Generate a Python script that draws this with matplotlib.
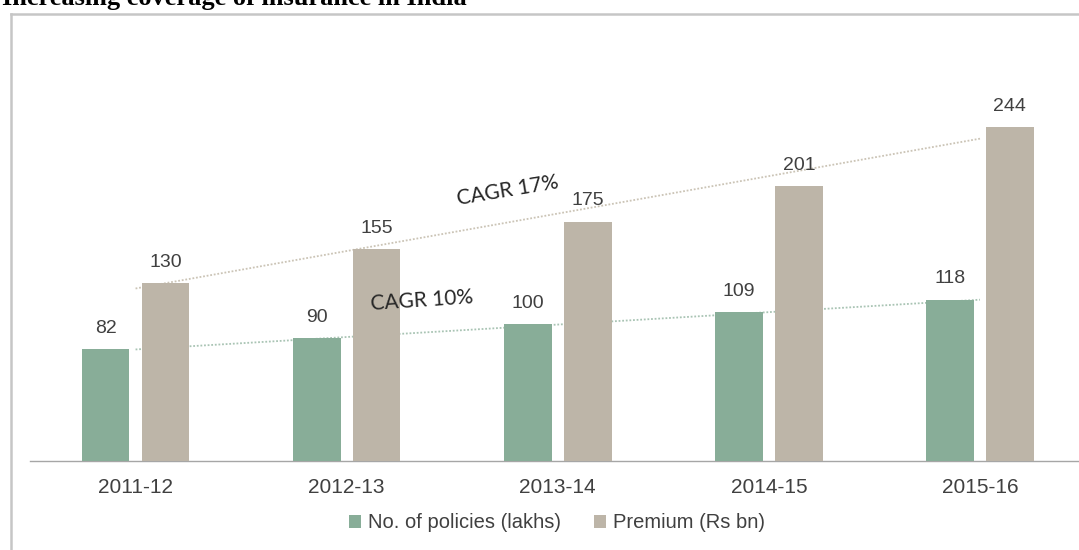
import numpy as np
import matplotlib
matplotlib.use("Agg")
import matplotlib.pyplot as plt
from matplotlib.patches import Patch
from matplotlib.lines import Line2D

# ---- data ----
categories = ["2011-12", "2012-13", "2013-14", "2014-15", "2015-16"]
policies = [82, 90, 100, 109, 118]
premium = [130, 155, 175, 201, 244]
series_names = ["No. of policies (lakhs)", "Premium (Rs bn)"]
cagr_labels = ["CAGR 10%", "CAGR 17%"]
title = "Increasing coverage of insurance in India"

# ---- style ----
GREEN = "#88AD98"
TAN = "#BDB5A8"
TXT = "#404040"

W, H = 1079, 550
fig = plt.figure(figsize=(W / 100, H / 100), dpi=100)

# axes placement (pixels)
ax_left, ax_right, ax_bottom, ax_top = 30, 1085.5, 461, 14
ax = fig.add_axes([ax_left / W, (H - ax_bottom) / H,
                   (ax_right - ax_left) / W, (ax_bottom - ax_top) / H])

x = np.arange(len(categories))
bw = 0.226
off = 0.142
ax.bar(x - off, policies, width=bw, color=GREEN, zorder=3)
ax.bar(x + off, premium, width=bw, color=TAN, zorder=3)

for xi, v in zip(x, policies):
    ax.text(xi - off, v + 9, str(v), ha="center", va="bottom",
            fontsize=14, color=TXT, family="Liberation Sans")
for xi, v in zip(x, premium):
    ax.text(xi + off, v + 9, str(v), ha="center", va="bottom",
            fontsize=14, color=TXT, family="Liberation Sans")

# linear trend lines
for vals, col in ((policies, "#A9C4B4"), (premium, "#CBC4B6")):
    k, b = np.polyfit(x, vals, 1)
    xs = np.array([x[0], x[-1]])
    ax.plot(xs, k * xs + b, linestyle=(0, (1, 1)), color=col, lw=1.3, zorder=2)

ax.text(1.355, 117.5, cagr_labels[0], rotation=3.8, rotation_mode="anchor",
        ha="center", va="center", fontsize=15, color="#262626", family="Lato")
ax.text(1.763, 198, cagr_labels[1], rotation=9.5, rotation_mode="anchor",
        ha="center", va="center", fontsize=15, color="#262626", family="Lato")

ax.set_xlim(-0.5, 4.5)
ax.set_ylim(0, (ax_bottom - ax_top) / 1.367)
ax.set_xticks(x)
ax.set_xticklabels(categories, fontsize=15, color=TXT, family="Liberation Sans")
ax.tick_params(axis="x", length=0, pad=12)
ax.set_yticks([])
for s in ("top", "right", "left"):
    ax.spines[s].set_visible(False)
ax.spines["bottom"].set_color("#A6A6A6")
ax.spines["bottom"].set_linewidth(1.0)
ax.patch.set_alpha(0)

# legend
handles = [Patch(facecolor=GREEN, edgecolor="none"), Patch(facecolor=TAN, edgecolor="none")]
leg = fig.legend(handles, series_names, loc="center", bbox_to_anchor=(557 / W, 1 - 523 / H),
                 ncol=2, frameon=False, handlelength=0.6, handleheight=0.6,
                 handletextpad=0.35, columnspacing=1.6,
                 prop={"family": "Liberation Sans", "size": 14.5})
for t in leg.get_texts():
    t.set_color(TXT)

# outer frame (partially visible box)
fig.add_artist(Line2D([11 / W, 11 / W], [0, 1 - 14 / H], transform=fig.transFigure,
                      color="#C6C6C6", lw=1.8))
fig.add_artist(Line2D([11 / W, 1.0], [1 - 14 / H, 1 - 14 / H], transform=fig.transFigure,
                      color="#C6C6C6", lw=1.8))

# title (cropped at the top)
fig.text(2 / W, 1 - 5 / H, title, ha="left", va="baseline", fontsize=19,
         fontweight="bold", family="Liberation Serif", color="black")

fig.savefig("out.png", dpi=100)
